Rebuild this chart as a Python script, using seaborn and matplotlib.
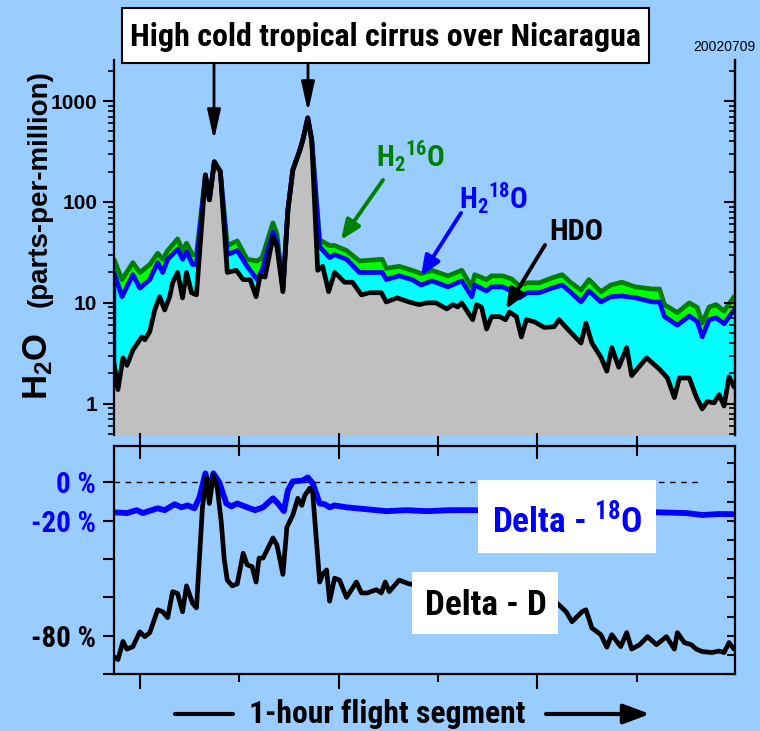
import matplotlib
matplotlib.use("Agg")
import matplotlib.pyplot as plt
import seaborn as sns
from matplotlib import font_manager
from matplotlib.font_manager import FontProperties
from matplotlib.patches import Rectangle
from matplotlib.lines import Line2D
from matplotlib.ticker import FixedLocator, FixedFormatter, NullFormatter, LogLocator

# ---------------- data (time in minutes along the flight segment) ----------------
minutes_hdo = [-2.6, -2.2, -1.7, -1.3, -0.7, 0.2, 0.5, 1.0, 1.5, 2.0, 2.5, 3.0, 3.3, 3.8, 4.3,
               4.7, 5.2, 5.7, 6.6, 7.0, 7.5, 8.1, 8.8, 9.7, 10.4, 11.1, 11.7, 12.1, 12.6, 13.4,
               13.8, 14.4, 14.9, 15.4, 16.1, 16.4, 16.9, 17.3, 17.9, 18.4, 19.0, 19.6, 20.1, 20.6,
               21.4, 22.3, 23.1, 24.3, 24.8, 25.9, 27.1, 28.1, 28.9, 29.8, 30.9, 31.5, 32.0, 32.4,
               33.5, 33.9, 34.4, 34.9, 35.4, 36.2, 36.8, 37.2, 37.9, 38.4, 38.9, 39.7, 40.7, 41.7,
               42.2, 42.9, 44.4, 44.9, 45.5, 46.4, 47.0, 47.5, 48.2, 49.0, 49.5, 51.0, 52.3, 53.1,
               53.8, 54.3, 55.3, 56.0, 56.6, 57.1, 57.8, 58.3, 58.8, 59.3, 59.8]
hdo_ppm = [2.5, 1.38, 2.85, 2.4, 3.4, 4.6, 4.3, 5.2, 8.5, 11.5, 8.5, 11.5, 15.8, 20, 11.2,
           20, 12.6, 12, 185, 105, 250, 200, 20, 21, 17, 17, 11.5, 18.5, 18, 45,
           36, 12.9, 83, 208, 325, 410, 680, 410, 21, 23, 12.9, 20, 18, 16,
           16, 12, 12.6, 12.6, 10.2, 11.2, 10.2, 9.6, 10, 10, 8.7, 9.6, 9.1, 10,
           6.8, 9.6, 9.0, 5.5, 7.3, 7.3, 6.8, 8.1, 7.3, 4.6, 6.8, 6.5, 5.7, 5.8,
           6.8, 5.7, 4.0, 6.3, 4.0, 2.9, 2.1, 3.6, 2.3, 3.6, 1.9, 2.85, 2.2, 1.8,
           1.15, 1.8, 1.8, 1.17, 0.89, 1.05, 1.02, 1.23, 0.95, 1.85, 1.47]

minutes_iso = [-2.6, -1.8, -0.7, 0.0, 1.0, 1.8, 2.3, 2.8, 3.8, 4.3, 4.7, 5.3, 5.7, 6.6, 7.0,
               7.5, 8.1, 8.8, 9.8, 10.8, 11.8, 12.3, 13.4, 13.8, 14.4, 14.9, 15.4, 16.1, 16.4,
               16.9, 17.3, 18.1, 19.1, 19.6, 20.8, 22.1, 24.4, 24.8, 26.1, 27.4, 28.3, 29.4,
               31.0, 32.4, 33.4, 33.7, 34.9, 35.4, 36.5, 37.4, 38.2, 39.0, 40.2, 41.5, 42.5,
               43.4, 44.4, 45.2, 46.4, 47.4, 48.5, 49.9, 51.6, 52.3, 52.8, 54.1, 55.3, 56.1,
               56.6, 57.3, 58.0, 58.8, 59.8]
h2_18o_ppm = [20, 11.5, 19, 14, 17, 25, 20, 27, 34, 27, 32, 24, 24, 185, 105,
              250, 200, 30, 33, 23, 17, 21, 50, 40, 13.5, 83, 208, 325, 410,
              680, 410, 36, 28, 30, 27, 20, 20, 17, 18.5, 17, 15, 16.5,
              14.4, 16.5, 11.5, 15, 13.1, 14.4, 14.4, 13.1, 11.2, 12.6, 12.6, 14, 15,
              12.6, 10.2, 13.1, 10.2, 11.5, 11.7, 11.2, 10.2, 10.2, 7.3, 6.0, 7.4, 6.5,
              4.6, 6.8, 7.1, 6.2, 8.5]
h2_16o_ppm = [27, 17, 25, 20, 24, 31, 27, 33, 43, 33, 39, 30, 30, 185, 105,
              250, 200, 37, 41, 27, 26, 28, 62, 48, 14, 83, 208, 325, 410,
              680, 410, 42, 37, 37, 33, 26, 27, 22, 23, 21, 19.5, 21,
              18.5, 21, 14.4, 19, 17, 18.5, 18.5, 17.3, 14.8, 15.8, 15.8, 17.7, 19,
              15.8, 13.4, 17, 12.9, 15, 16, 14.4, 13.7, 13.7, 9.6, 8.0, 10, 9.0,
              6.3, 9.1, 9.6, 8.3, 11.5]

minutes_dd = [-2.6, -2.2, -1.7, -1.3, -0.7, 0.0, 0.5, 1.0, 1.8, 2.3, 2.8, 3.3, 3.8, 4.3, 4.7,
              5.3, 5.7, 6.3, 6.7, 7.0, 7.4, 7.8, 8.2, 8.5, 8.8, 9.3, 9.8, 10.4, 10.8, 11.3,
              11.7, 12.0, 12.4, 13.4, 13.8, 14.4, 14.8, 15.4, 15.9, 16.3, 16.6, 17.1, 17.4,
              18.1, 18.4, 18.8, 19.1, 19.6, 20.1, 20.8, 21.8, 22.3, 22.9, 23.8, 24.3, 24.7,
              25.1, 26.1, 27.1, 29.1, 31.7, 34.2, 36.7, 39.2, 41.2, 42.2, 42.9, 43.5, 44.5,
              44.9, 45.5, 46.4, 47.0, 47.5, 48.4, 49.0, 49.5, 50.3, 51.1, 52.0, 53.0, 53.8,
              54.1, 54.8, 55.5, 56.0, 56.6, 57.6, 58.3, 58.8, 59.3, 59.8]
delta_d_pct = [-91, -92.5, -83, -87, -85.7, -78, -80.5, -78.4, -66.5, -67.5, -70.6, -57, -58, -67.5, -54,
               -63, -65.5, -13, 2.6, -11, 3.6, -3, -21, -40.5, -51, -54, -53, -37, -43, -44,
               -52, -39.5, -39.5, -29, -32.7, -48, -23.4, -17, -8.3, -12, -6.8, -3, -5.7,
               -52, -48, -45.7, -62, -50, -51, -60, -52, -57.7, -57.7, -56, -57.7, -52,
               -57, -51, -53, -54, -52, -55, -54, -58, -60, -64, -67.5, -72.7, -67.5,
               -66.5, -76, -79.5, -86, -79.5, -85.7, -78.4, -87, -84.7, -80.5, -84.7, -80.5, -87,
               -78.4, -83.6, -84.7, -87, -88.3, -88.8, -88, -88.8, -83.6, -87]

minutes_d18 = [-2.6, -1.3, -0.3, 0.3, 1.8, 2.5, 3.5, 4.2, 4.8, 5.5, 6.0, 6.6, 7.0, 7.4, 8.0,
               8.7, 9.2, 9.8, 10.8, 11.6, 12.4, 13.4, 13.9, 14.5, 14.9, 15.4, 16.4, 16.9, 17.4,
               18.1, 18.6, 19.1, 19.6, 20.8, 22.8, 24.8, 26.8, 28.9, 31.2, 33.5, 38.2, 46.2,
               52.0, 55.0, 56.6, 58.3, 59.8]
delta_18o_pct = [-15.6, -16, -14.5, -16, -13.5, -14.5, -11.4, -13, -12, -13.5, -7.8, 4.7, -5.2, 4.7, 0,
                 -11, -12.5, -11, -13, -14.5, -13, -8.3, -11, -15, -4.2, 0.5, 1, 2.6, -0.5,
                 -11, -11.4, -13, -12, -13, -14, -15, -14.5, -15, -14.5, -14.5, -15, -15.5,
                 -15.6, -16, -17, -16.5, -16.6]

ppm_ticks = [1, 10, 100, 1000]
ppm_tick_labels = ["1", "10", "100", "1000"]
pct_ticks = [0, -20, -40, -60, -80, -100]
pct_tick_labels = ["0 %", "-20 %", "", "", "-80 %", ""]
pct_label_colors = ["#0000FF", "#0000FF", "black", "black", "black", "black"]

TITLE = "High cold tropical cirrus over Nicaragua"
DATE_TAG = "20020709"
XLABEL = "1-hour flight segment"

# ---------------- style ----------------
BG = "#99CCFF"
GRAY = "#C0C0C0"
CYAN = "#00FFFF"
LIME = "#00FF00"
DKGREEN = "#008000"
BLUE = "#0000FF"

sns.set_theme(style="ticks", rc={"axes.facecolor": BG, "figure.facecolor": BG,
                                 "savefig.facecolor": BG})
plt.rcParams["font.family"] = ["Liberation Sans", "DejaVu Sans"]
plt.rcParams["font.weight"] = "bold"
plt.rcParams["mathtext.fontset"] = "custom"
plt.rcParams["mathtext.default"] = "regular"


def _bold(w):
    try:
        return int(w) >= 600
    except (TypeError, ValueError):
        return str(w).lower() in ("bold", "semibold", "demibold", "demi", "heavy", "extra bold")


def _narrow_bold_font():
    """Pick a condensed bold sans face if one is installed, else regular Liberation Sans Bold."""
    order = ["liberation", "arial", "roboto", "noto sans", "open sans", "dejavu"]
    best = None
    for f in font_manager.fontManager.ttflist:
        n = f.name.lower()
        st = str(f.stretch).lower()
        if not _bold(f.weight) or "mono" in n or "serif" in n or "cjk" in n:
            continue
        if not ("narrow" in n or "condensed" in n or "condensed" in st):
            continue
        rank = next((i for i, k in enumerate(order) if k in n), len(order))
        if any(k in n for k in ("extra", "ultra", "semi")) or "semi" in st or "extra" in st:
            rank += 10
        try:
            rank += 0 if int(f.weight) == 700 else 5
        except (TypeError, ValueError):
            pass
        if best is None or rank < best[0]:
            best = (rank, f.fname)
    if best is not None:
        return FontProperties(fname=best[1])
    return FontProperties(family="Liberation Sans", weight="bold")


NARROW_FP = _narrow_bold_font()

W, H = 760, 731
fig = plt.figure(figsize=(W / 100, H / 100), dpi=100)
renderer = fig.canvas.get_renderer()


def P(px, py):
    """image-pixel position -> figure fraction"""
    return (px / W, 1 - py / H)


def box(x0, y0, x1, y1):
    l, b = P(x0, y1)
    r, t = P(x1, y0)
    return [l, b, r - l, t - b]


def narrow(size):
    fp = NARROW_FP.copy()
    fp.set_size(size)
    return fp


def fit_width(t, target_px):
    w = t.get_window_extent(renderer).width
    t.set_fontsize(t.get_fontsize() * target_px / w)
    return t


ax = fig.add_axes(box(114, 60, 735, 435))
axd = fig.add_axes(box(114, 446, 735, 674))
XLIM = (-2.6, 59.9)

# ---------------- upper panel: mixing ratios ----------------
ax.set_yscale("log")
ax.fill_between(minutes_iso, h2_16o_ppm, 0.3, color=LIME, lw=0, zorder=1)
ax.fill_between(minutes_iso, h2_18o_ppm, 0.3, color=CYAN, lw=0, zorder=1.1)
ax.fill_between(minutes_hdo, hdo_ppm, 0.3, color=GRAY, lw=0, zorder=1.2)
ax.vlines(minutes_iso[0], hdo_ppm[0], h2_18o_ppm[0], color=BLUE, lw=2.5, zorder=1.3)
sns.lineplot(x=minutes_iso, y=h2_16o_ppm, ax=ax, color=DKGREEN, lw=3.4, estimator=None, sort=False, zorder=2)
sns.lineplot(x=minutes_iso, y=h2_18o_ppm, ax=ax, color=BLUE, lw=3.4, estimator=None, sort=False, zorder=2.1)
sns.lineplot(x=minutes_hdo, y=hdo_ppm, ax=ax, color="black", lw=3.4, estimator=None, sort=False, zorder=2.2)

ax.set_xlim(*XLIM)
ax.set_ylim(0.49, 2550)
ax.set_xlabel("")
ax.set_ylabel("")
for s in ("top", "bottom"):
    ax.spines[s].set_visible(False)
for s in ("left", "right"):
    ax.spines[s].set_color("black")
    ax.spines[s].set_linewidth(1.6)
ax.yaxis.set_major_locator(FixedLocator(ppm_ticks))
ax.yaxis.set_major_formatter(FixedFormatter(ppm_tick_labels))
ax.yaxis.set_minor_locator(LogLocator(base=10, subs=range(2, 10)))
ax.yaxis.set_minor_formatter(NullFormatter())
ax.tick_params(axis="y", which="major", direction="out", length=8, width=1.5, color="black",
               labelsize=15, pad=4, labelcolor="black")
ax.tick_params(axis="y", which="minor", direction="out", length=4, width=1.2, color="black")
ax.xaxis.set_major_locator(FixedLocator([0, 10, 20, 30, 40, 50, 60]))
ax.xaxis.set_major_formatter(NullFormatter())
ax.tick_params(axis="x", which="both", direction="in", length=7, width=1.5, color="black")
for lab in ax.get_yticklabels():
    lab.set_fontweight("bold")

axr = ax.twinx()
axr.set_yscale("log")
axr.set_ylim(ax.get_ylim())
axr.yaxis.set_major_locator(FixedLocator(ppm_ticks))
axr.yaxis.set_minor_locator(LogLocator(base=10, subs=range(2, 10)))
axr.yaxis.set_major_formatter(NullFormatter())
axr.yaxis.set_minor_formatter(NullFormatter())
axr.tick_params(axis="y", which="major", direction="in", length=8, width=1.5, color="black")
axr.tick_params(axis="y", which="minor", direction="in", length=4, width=1.2, color="black")
for s in ("top", "bottom", "left"):
    axr.spines[s].set_visible(False)
axr.spines["right"].set_linewidth(1.6)
axr.spines["right"].set_color("black")

# ---------------- lower panel: delta values ----------------
axd.hlines(0, XLIM[0], 56.3, color="black", lw=1, linestyles=(0, (4, 4)), zorder=1)
sns.lineplot(x=minutes_d18, y=delta_18o_pct, ax=axd, color=BLUE, lw=4.2, estimator=None, sort=False, zorder=2)
sns.lineplot(x=minutes_dd, y=delta_d_pct, ax=axd, color="black", lw=3.4, estimator=None, sort=False, zorder=2.1)
axd.set_xlim(*XLIM)
axd.set_ylim(-100, 19)
axd.set_xlabel("")
axd.set_ylabel("")
for s in axd.spines.values():
    s.set_visible(True)
    s.set_color("black")
    s.set_linewidth(1.6)
axd.yaxis.set_major_locator(FixedLocator(pct_ticks))
axd.yaxis.set_major_formatter(FixedFormatter(pct_tick_labels))
axd.tick_params(axis="y", which="major", direction="out", length=8, width=1.5, color="black",
                pad=5)
pct_labels = axd.get_yticklabels()
for lab, c in zip(pct_labels, pct_label_colors):
    lab.set_color(c)
    lab.set_fontproperties(narrow(20))
fit_width(pct_labels[4], 65)
for lab in pct_labels:
    lab.set_fontsize(pct_labels[4].get_fontsize())
axd.xaxis.set_major_locator(FixedLocator([0, 20, 40, 60]))
axd.xaxis.set_minor_locator(FixedLocator([10, 30, 50]))
axd.xaxis.set_major_formatter(NullFormatter())
axd.tick_params(axis="x", which="major", direction="out", length=11, width=1.5, color="black")
axd.tick_params(axis="x", which="minor", direction="out", length=6, width=1.5, color="black")

axdr = axd.twinx()
axdr.set_ylim(axd.get_ylim())
axdr.yaxis.set_major_locator(FixedLocator(list(range(-100, 20, 10))))
axdr.yaxis.set_major_formatter(NullFormatter())
axdr.tick_params(axis="y", direction="in", length=6, width=1.5, color="black")
for s in axdr.spines.values():
    s.set_visible(False)

axdt = axd.secondary_xaxis("top")
axdt.xaxis.set_major_locator(FixedLocator([0, 20, 40, 60]))
axdt.xaxis.set_minor_locator(FixedLocator([10, 30, 50]))
axdt.xaxis.set_major_formatter(NullFormatter())
axdt.tick_params(axis="x", which="major", direction="inout", length=19, width=1.5, color="black")
axdt.tick_params(axis="x", which="minor", direction="inout", length=14, width=1.5, color="black")
axdt.spines["top"].set_visible(False)

# ---------------- text boxes, labels and arrows ----------------
fig.add_artist(Rectangle(P(122, 63), 527 / W, 55 / H, transform=fig.transFigure,
                         facecolor="white", edgecolor="black", lw=1.5, zorder=5))
fit_width(fig.text(*P(386, 37), TITLE, ha="center", va="center", fontproperties=narrow(22),
                   color="black", zorder=6), 509)
fig.text(*P(755, 51), DATE_TAG, ha="right", va="baseline", fontsize=10,
         fontfamily="Liberation Sans", fontweight="normal", color="black")

fig.add_artist(Rectangle(P(478, 553), 178 / W, 73 / H, transform=fig.transFigure,
                         facecolor="white", edgecolor="none", zorder=5))
fit_width(fig.text(*P(492, 533), r"Delta - $^{18}$O", ha="left", va="baseline",
                   fontproperties=narrow(26), color=BLUE, zorder=6), 150)
fig.add_artist(Rectangle(P(412, 634), 146 / W, 62 / H, transform=fig.transFigure,
                         facecolor="white", edgecolor="none", zorder=5))
fit_width(fig.text(*P(425, 615), "Delta - D", ha="left", va="baseline",
                   fontproperties=narrow(26), color="black", zorder=6), 122)

# species labels with pointers
fit_width(fig.text(*P(376, 167), r"H$_2$$^{16}$O", ha="left", va="baseline",
                   fontproperties=narrow(22), color=DKGREEN), 69)
fit_width(fig.text(*P(459, 209), r"H$_2$$^{18}$O", ha="left", va="baseline",
                   fontproperties=narrow(22), color=BLUE), 69)
fit_width(fig.text(*P(549, 240), "HDO", ha="left", va="baseline",
                   fontproperties=narrow(22), color="black"), 54)


def arrow(p0, p1, color, lw, hl, hw, ms=20):
    ax.annotate("", xy=P(*p1), xycoords="figure fraction", xytext=P(*p0),
                textcoords="figure fraction", annotation_clip=False,
                arrowprops=dict(arrowstyle=f"-|>,head_length={hl},head_width={hw}",
                                color=color, lw=lw, shrinkA=0, shrinkB=0,
                                mutation_scale=ms))


arrow((214, 63), (214, 140), "black", 2, 0.9, 0.2)
arrow((308, 63), (308, 112), "black", 2, 0.9, 0.2)
arrow((383, 180), (341, 240), DKGREEN, 2.8, 0.6, 0.25)
arrow((461, 213), (421, 276), BLUE, 2.8, 0.6, 0.25)
arrow((545, 245), (506, 309), "black", 2.8, 0.6, 0.25)

# y-axis title
fig.text(*P(47, 400), r"H$_2$O", rotation=90, rotation_mode="anchor", ha="left",
         va="baseline", fontsize=25, fontweight="bold", color="black")
fig.text(*P(47, 307), "(parts-per-million)", rotation=90, rotation_mode="anchor",
         ha="left", va="baseline", fontsize=20, fontweight="bold", color="black")

# x-axis caption with direction arrow
fig.add_artist(Line2D([175 / W, 233 / W], [1 - 714 / H, 1 - 714 / H], color="black", lw=3,
                      transform=fig.transFigure))
fit_width(fig.text(*P(387, 714), XLABEL, ha="center", va="center",
                   fontproperties=narrow(22), color="black"), 276)
arrow((546, 714), (650, 714), "black", 3, 0.8, 0.3)

fig.savefig("out.png", dpi=100, facecolor=BG)
